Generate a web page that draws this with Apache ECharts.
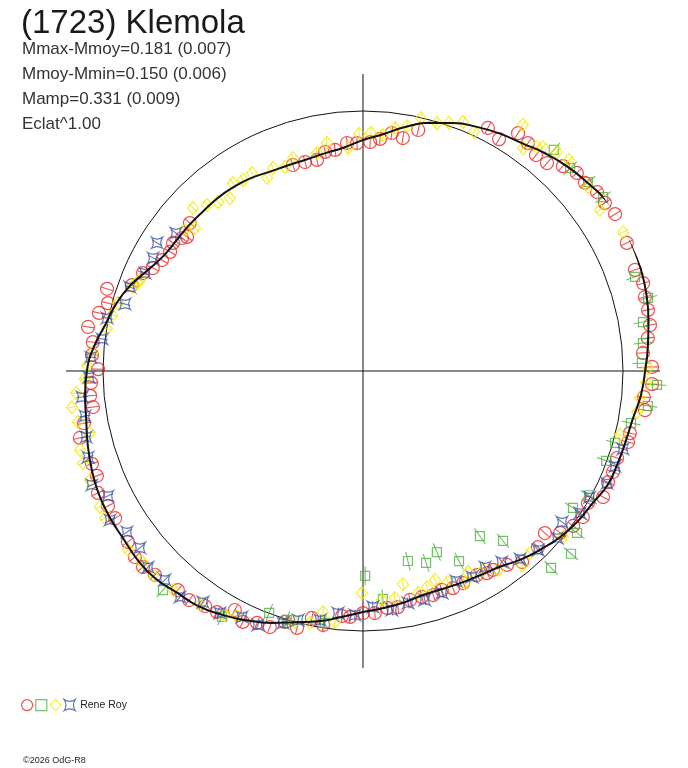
<!DOCTYPE html>
<html>
<head>
<meta charset="utf-8">
<title>(1723) Klemola</title>
<script src="https://cdn.jsdelivr.net/npm/echarts/dist/echarts.min.js"></script>
<style>
  html, body { margin: 0; padding: 0; background: #fff; }
  #chart { width: 688px; height: 768px; }
</style>
</head>
<body>
<div id="chart"></div>
<script>
const chartTitle = '(1723) Klemola'
const statLines = ['Mmax-Mmoy=0.181 (0.007)', 'Mmoy-Mmin=0.150 (0.006)', 'Mamp=0.331 (0.009)', 'Eclat^1.00']
const observer = 'Rene Roy'
const credit = '©2026 OdG-R8'

// [phase angle in deg, flux radius] ; reference circle = 1
const fitCurve = [
  [0,1.085],[5,1.100],[10,1.115],[15,1.129],[20,1.138],[25,1.143],[30,1.150],[35,1.143],[40,1.127],[45,1.112],
  [50,1.092],[55,1.069],[60,1.054],[65,1.036],[70,1.015],[75,0.988],[80,0.954],[85,0.915],[90,0.888],[95,0.862],
  [100,0.850],[105,0.842],[110,0.842],[115,0.846],[120,0.858],[125,0.865],[130,0.869],[135,0.869],[140,0.873],[145,0.876],
  [150,0.886],[155,0.915],[160,0.955],[165,0.985],[170,1.008],[175,1.040],[180,1.062],[185,1.073],[190,1.081],[195,1.096],
  [200,1.110],[205,1.121],[210,1.125],[215,1.125],[220,1.131],[225,1.129],[230,1.113],[235,1.104],[240,1.083],[245,1.058],
  [250,1.031],[255,1.000],[260,0.977],[265,0.950],[270,0.927],[275,0.915],[280,0.904],[285,0.892],[290,0.892],[295,0.898],
  [300,0.906],[305,0.919],[310,0.946],[315,0.969],[320,0.992],[325,1.008],[330,1.019],[335,1.038],[340,1.042],[345,1.046],
  [350,1.054],[355,1.073],[360,1.085]
]

const sessionRed = [
  [25.9,1.128],[22.9,1.144],[20.4,1.116],[17.4,1.129],[14.7,1.121],[12.1,1.121],[9.1,1.118],[6.6,1.103],[3.7,1.079],[0.8,1.112],
  [357.4,1.113],[354.7,1.085],[352.1,1.095],[346.9,1.054],[345.0,1.055],[341.1,1.033],[338.0,1.037],[335.6,1.035],[332.3,1.043],[329.6,1.003],
  [326.4,1.015],[323.6,1.004],[318.3,0.937],[320.6,0.981],[314.8,0.955],[309.8,0.956],[306.6,0.929],[303.2,0.914],[301.5,0.912],[299.2,0.899],
  [295.3,0.902],[292.5,0.904],[289.8,0.895],[287.4,0.903],[284.6,0.898],[281.6,0.899],[278.4,0.918],[275.8,0.916],[272.8,0.932],[270.0,0.931],
  [267.0,0.947],[265.1,0.946],[261.1,0.989],[258.3,0.970],[255.6,1.020],[252.7,1.011],[250.0,1.048],[247.2,1.051],[244.4,1.070],[241.8,1.043],
  [238.8,1.084],[236.1,1.089],[232.8,1.106],[229.8,1.103],[224.4,1.120],[221.7,1.133],[219.2,1.132],[216.0,1.118],[210.7,1.109],[207.9,1.110],
  [204.7,1.122],[201.5,1.100],[198.9,1.102],[193.3,1.119],[190.6,1.092],[187.6,1.048],[185.2,1.054],[182.5,1.047],[179.6,1.019],[176.6,1.044],
  [173.9,1.045],[170.9,1.071],[167.6,1.040],[165.1,1.015],[162.2,1.034],[159.6,0.948],[156.0,0.926],[153.9,0.900],[151.1,0.883],[148.3,0.872],
  [146.0,0.881],[143.7,0.864],[142.7,0.851],[139.5,0.876],[108.8,0.837],[105.5,0.834],[102.3,0.831],[99.8,0.855],[97.2,0.857],[94.0,0.879],
  [91.5,0.877],[88.2,0.881],[85.8,0.895],[83.1,0.922],[80.3,0.909],[77.1,0.951],[62.8,1.051],[59.6,1.034],[56.9,1.092],[54.1,1.082],
  [51.3,1.064],[48.5,1.068],[45.7,1.101],[42.8,1.121],[40.3,1.119],[37.4,1.133],[34.8,1.133],[31.9,1.142],[28.6,1.157]
]

const sessionGreen = [
  [53.5,1.144],[49.2,1.123],[44.4,1.115],[40.0,1.130],[35.9,1.140],[27.2,1.168],[23.5,1.187],[19.1,1.107],[14.4,1.132],[9.9,1.093],
  [5.7,1.082],[1.6,1.073],[357.3,1.132],[353.0,1.104],[349.0,1.050],[344.1,1.008],[339.7,0.997],[331.2,0.992],[326.9,0.964],[322.9,1.032],
  [318.7,1.065],[313.7,1.047],[309.5,0.847],[305.3,0.778],[296.8,0.819],[292.2,0.752],[288.2,0.777],[283.3,0.751],[275.0,0.880],[270.6,0.788],
  [261.4,0.980],[253.0,1.001],[248.8,0.998],[240.2,1.090],[231.6,1.153],[227.6,1.141]
]

const sessionYellow = [
  [28.1,1.134],[25.6,1.182],[23.0,1.191],[20.2,1.147],[0.6,1.096],[357.6,1.090],[354.4,1.070],[351.5,1.066],[346.0,1.018],[51.2,1.105],
  [48.5,1.125],[45.7,1.134],[39.3,1.118],[36.8,1.162],[34.2,1.102],[30.9,1.152],[57.0,1.129],[54.3,1.056],[52.2,1.091],[65.1,1.014],
  [68.1,1.032],[70.9,1.010],[73.4,0.995],[77.1,0.998],[79.8,0.957],[82.5,0.943],[85.2,0.911],[88.1,0.916],[90.9,0.912],[93.8,0.860],
  [99.0,0.888],[101.9,0.857],[108.2,0.862],[110.9,0.840],[113.9,0.854],[116.4,0.829],[119.3,0.873],[122.1,0.868],[124.7,0.879],[127.6,0.839],
  [130.6,0.856],[133.2,0.876],[136.2,0.906],[139.6,0.849],[141.6,0.873],[157.8,0.926],[159.9,0.942],[158.7,0.933],[164.5,0.978],[167.4,0.989],
  [170.7,0.998],[176.0,1.041],[178.8,1.062],[181.6,1.070],[184.4,1.107],[187.1,1.128],[190.1,1.114],[192.8,1.077],[195.6,1.130],[198.2,1.134],
  [201.8,1.131],[207.3,1.139],[209.7,1.142],[212.8,1.144],[217.3,1.136],[220.8,1.123],[224.2,1.126],[229.1,1.115],[235.1,1.097],[240.5,1.078],
  [242.8,1.060],[254.8,1.000],[258.1,0.990],[260.6,0.940],[263.6,0.971],[269.7,0.854],[274.7,0.884],[278.0,0.882],[280.6,0.834],[283.9,0.880],
  [286.5,0.867],[289.0,0.850],[291.9,0.875],[295.7,0.905],[297.6,0.872],[301.1,0.894],[304.2,0.925],[309.3,0.965],[312.5,0.950],[320.3,1.000]
]

const sessionBlue = [
  [343.3,1.044],[339.3,1.036],[335.3,1.033],[330.9,0.998],[326.8,0.997],[322.8,0.961],[319.3,0.985],[314.4,0.963],[309.9,0.942],[306.0,0.908],
  [301.9,0.888],[297.9,0.896],[293.9,0.883],[289.6,0.906],[285.1,0.912],[281.0,0.909],[276.9,0.926],[272.4,0.908],[268.1,0.939],[264.1,0.936],
  [260.2,0.972],[255.4,0.990],[252.4,1.017],[247.5,1.057],[243.8,1.054],[239.4,1.081],[235.3,1.081],[231.0,1.118],[226.5,1.107],[222.4,1.119],
  [218.4,1.095],[214.3,1.099],[210.5,1.129],[206.1,1.092],[202.8,1.131],[197.4,1.108],[193.4,1.095],[189.2,1.083],[185.3,1.085],[181.3,1.054],
  [177.1,1.048],[173.0,1.011],[168.3,1.005],[164.3,0.951],[160.2,0.953],[155.8,0.919],[151.7,0.917],[148.1,0.933],[143.6,0.894]
]

const FONT = 'Liberation Sans, Arial, sans-serif'
const RED = '#ea2424', GREEN = '#52b243', YELLOW = '#f2ea00', BLUE = '#3656a8'
const STAR = 'path://M0,0 Q5,3.2 10,0 Q6.8,5 10,10 Q5,6.8 0,10 Q3.2,5 0,0 Z'

const chart = echarts.init(document.getElementById('chart'))

// hollow marker for one session
const markerSeries = (name, data, symbol, size, color) => ({
  name, type: 'scatter', coordinateSystem: 'polar', polarIndex: 0,
  data, encode: {angle: 0, radius: 1},
  symbol, symbolSize: size,
  itemStyle: {color: 'rgba(0,0,0,0)', borderColor: color, borderWidth: 1.2},
  silent: true, z: 2
})

// radial error tick through each marker
const barSeries = (data, len, color) => ({
  type: 'scatter', coordinateSystem: 'polar', polarIndex: 0,
  data: data.map(p => ({value: p, symbolRotate: p[0]})),
  encode: {angle: 0, radius: 1},
  symbol: 'rect', symbolSize: [len, 1.1],
  itemStyle: {color}, silent: true, z: 2
})

const hollow = c => ({color: 'rgba(0,0,0,0)', borderColor: c, borderWidth: 1.2})

const option = {
  backgroundColor: '#fff',
  animation: false,
  title: [
    {text: chartTitle, left: 21, top: 7, padding: 0,
      textStyle: {fontSize: 33, fontWeight: 'normal', color: '#1a1a1a', fontFamily: FONT}},
    {text: statLines.join('\n'), left: 22, top: 37, padding: 0,
      textStyle: {fontSize: 17, lineHeight: 25, fontWeight: 'normal', color: '#333', fontFamily: FONT}},
    {text: credit, left: 23, top: 756, padding: 0,
      textStyle: {fontSize: 9, fontWeight: 'normal', color: '#222', fontFamily: FONT}}
  ],
  legend: {
    left: 21, top: 699, padding: 0, itemWidth: 11, itemHeight: 11, itemGap: 2,
    selectedMode: false,
    formatter: name => name === observer + ' 4' ? observer : '',
    textStyle: {fontSize: 10.5, color: '#222', fontFamily: FONT},
    data: [
      {name: observer + ' 1', icon: 'circle', itemStyle: hollow(RED)},
      {name: observer + ' 2', icon: 'rect', itemStyle: hollow(GREEN)},
      {name: observer + ' 3', icon: 'diamond', itemStyle: hollow(YELLOW)},
      {name: observer + ' 4', icon: STAR, itemStyle: hollow(BLUE)}
    ]
  },
  polar: [
    {center: [363, 371], radius: 297},
    {center: [363, 371], radius: 260}
  ],
  angleAxis: [
    {polarIndex: 0, type: 'value', min: 0, max: 360, interval: 90, startAngle: 0, clockwise: false,
      axisLine: {show: false}, axisTick: {show: false}, axisLabel: {show: false},
      splitLine: {show: true, lineStyle: {color: '#111', width: 1}}},
    {polarIndex: 1, type: 'value', min: 0, max: 360, interval: 90, startAngle: 0, clockwise: false,
      axisLine: {show: true, lineStyle: {color: '#111', width: 1}}, axisTick: {show: false},
      axisLabel: {show: false}, splitLine: {show: false}}
  ],
  radiusAxis: [
    {polarIndex: 0, type: 'value', min: 0, max: 297 / 260,
      axisLine: {show: false}, axisTick: {show: false}, axisLabel: {show: false}, splitLine: {show: false}},
    {polarIndex: 1, type: 'value', min: 0, max: 1,
      axisLine: {show: false}, axisTick: {show: false}, axisLabel: {show: false}, splitLine: {show: false}}
  ],
  series: [
    barSeries(sessionRed, 12, RED),
    markerSeries(observer + ' 1', sessionRed, 'circle', 13, RED),
    barSeries(sessionGreen, 19, GREEN),
    markerSeries(observer + ' 2', sessionGreen, 'rect', 9, GREEN),
    barSeries(sessionYellow, 11, YELLOW),
    markerSeries(observer + ' 3', sessionYellow, 'diamond', [11, 13], YELLOW),
    barSeries(sessionBlue, 11, BLUE),
    markerSeries(observer + ' 4', sessionBlue, STAR, 11, BLUE),
    {
      type: 'line', coordinateSystem: 'polar', polarIndex: 0,
      data: fitCurve, encode: {angle: 0, radius: 1},
      smooth: true, showSymbol: false, clip: false, silent: true,
      lineStyle: {color: '#111', width: 2}, z: 5
    }
  ]
}

chart.setOption(option)
</script>
</body>
</html>
